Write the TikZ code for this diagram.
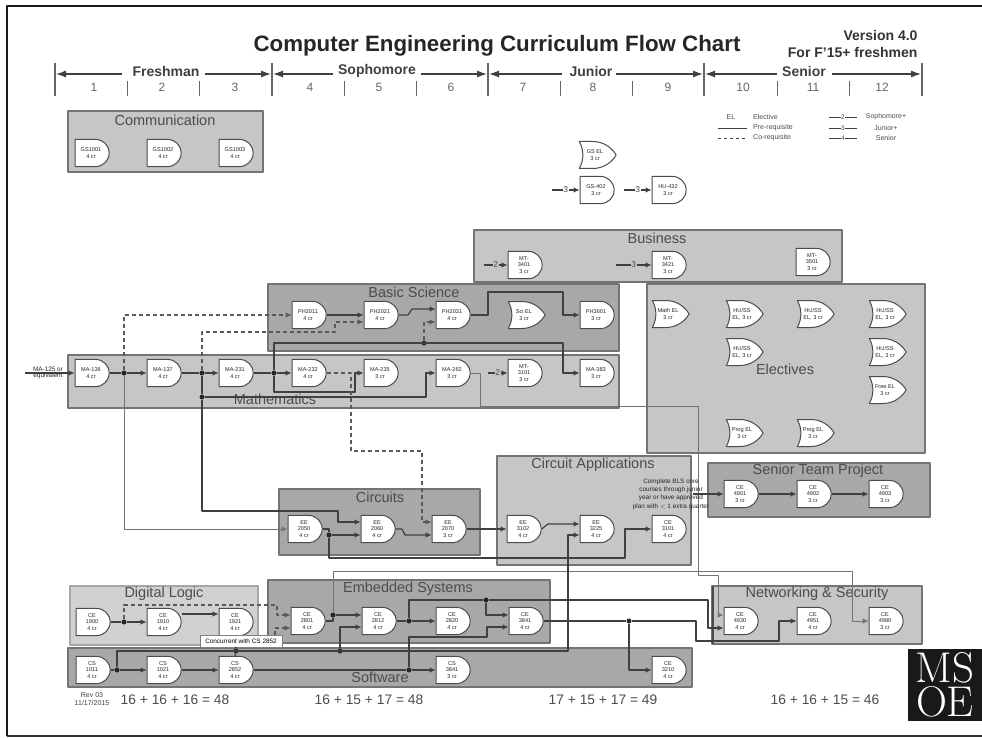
\documentclass[tikz,border=0pt]{standalone}
\usepackage{fontspec}
\setmainfont{Liberation Sans}
\usetikzlibrary{arrows.meta,shapes.gates.logic.US}
\definecolor{lightbox}{HTML}{C6C6C6}
\definecolor{darkbox}{HTML}{A8A8A8}
\definecolor{boxedge}{HTML}{747474}
\tikzset{
  course/.style={and gate US,draw=black!70,fill=white,line width=1pt,minimum width=34,minimum height=27,inner sep=0pt,align=center,font=\fontsize{5.6}{6.8}\selectfont,text=black!85},
  elective/.style={or gate US,draw=black!70,fill=white,line width=1pt,minimum width=34,minimum height=27,inner sep=0pt,align=center,font=\fontsize{5.6}{6.8}\selectfont,text=black!85},
  lightgroup/.style={draw=boxedge,fill=lightbox,line width=1.2pt},
  darkgroup/.style={draw=boxedge,fill=darkbox,line width=1.2pt},
  grouplabel/.style={font=\fontsize{14.5}{16}\selectfont,text=black!70},
  wire/.style={draw=black!75,line width=1.2pt,-{Latex[length=6,width=5.5]}},
  link/.style={draw=black!75,line width=1.2pt},
  thinwire/.style={draw=black!55,line width=1pt,-{Latex[length=6,width=5.5]}},
  cowire/.style={draw=black!65,line width=1.2pt,dash pattern=on 4pt off 3pt,-{Latex[length=6,width=5.5]}},
  junct/.style={circle,fill=black!85,inner sep=0pt,minimum size=5},
  level/.style={font=\fontsize{8.5}{8.5}\selectfont,inner sep=0.6pt,text=black!70},
  yearlabel/.style={font=\bfseries\fontsize{14}{15}\selectfont,text=black!75},
  quarter/.style={font=\fontsize{12}{13}\selectfont,text=black!60},
  yeararrow/.style={draw=black!75,line width=1.2pt,-{Latex[length=10,width=7]}},
  tick/.style={draw=black!60,line width=1.4pt},
  credits/.style={font=\fontsize{13.8}{15}\selectfont,text=black!70},
  legend/.style={font=\fontsize{7}{8}\selectfont,text=black!70,inner sep=0pt}
}
\begin{document}
\begin{tikzpicture}[x=1pt,y=-1pt,line cap=butt,line join=round]
  \useasboundingbox (0,0) rectangle (982,738);
  \fill[white] (0,0) rectangle (982,738);
  \draw[black!90,line width=1.5pt] (7,736) -- (7,6) -- (982,6);
  \draw[black!80,line width=1.5pt] (7,736) -- (982,736);

  \node[font=\bfseries\fontsize{22.3}{24}\selectfont,text=black!85] (title) at (497,46) {Computer Engineering Curriculum Flow Chart};
  \node[anchor=east,align=right,font=\bfseries\fontsize{14}{17}\selectfont,text=black!80] (version) at (921,44) {Version 4.0\\For F'15+ freshmen};

  \draw[tick] (55,63) -- (55,96) (272,63) -- (272,96) (488,63) -- (488,96) (704,63) -- (704,96) (922,63) -- (922,96);
  \draw[tick,line width=1pt] (127,81) -- (127,96) (199,81) -- (199,96) (344,81) -- (344,96) (416,81) -- (416,96);
  \draw[tick,line width=1pt] (560,81) -- (560,96) (632,81) -- (632,96) (777,81) -- (777,96) (849,81) -- (849,96);
  \node[yearlabel] (fresh) at (166,71) {Freshman};
  \node[yearlabel] (soph) at (377,71) {Sophomore};
  \node[yearlabel] (jun) at (591,71) {Junior};
  \node[yearlabel] (sen) at (804,71) {Senior};
  \coordinate (y0) at (56,74);
  \coordinate (y1l) at (271,74);
  \coordinate (y1r) at (273,74);
  \coordinate (y2l) at (487,74);
  \coordinate (y2r) at (489,74);
  \coordinate (y3l) at (703,74);
  \coordinate (y3r) at (705,74);
  \coordinate (y4) at (921,74);
  \draw[yeararrow] (122,74) -- (y0);
  \draw[yeararrow] (205,74) -- (y1l);
  \draw[yeararrow] (333,74) -- (y1r);
  \draw[yeararrow] (421,74) -- (y2l);
  \draw[yeararrow] (562,74) -- (y2r);
  \draw[yeararrow] (616,74) -- (y3l);
  \draw[yeararrow] (777,74) -- (y3r);
  \draw[yeararrow] (832,74) -- (y4);
  \node[quarter] (q1) at (94,87) {1};
  \node[quarter] (q2) at (162,87) {2};
  \node[quarter] (q3) at (235,87) {3};
  \node[quarter] (q4) at (310,87) {4};
  \node[quarter] (q5) at (379,87) {5};
  \node[quarter] (q6) at (451,87) {6};
  \node[quarter] (q7) at (523,87) {7};
  \node[quarter] (q8) at (593,87) {8};
  \node[quarter] (q9) at (668,87) {9};
  \node[quarter] (q10) at (743,87) {10};
  \node[quarter] (q11) at (813,87) {11};
  \node[quarter] (q12) at (882,87) {12};

  \draw[lightgroup] (68,111) rectangle (263,172);
  \draw[lightgroup] (474,230) rectangle (842,282);
  \draw[lightgroup] (647,284) rectangle (925,453);
  \draw[darkgroup] (268,284) rectangle (619,351);
  \draw[lightgroup] (68,355) rectangle (619,408);
  \draw[darkgroup] (279,489) rectangle (480,555);
  \draw[lightgroup] (497,456) rectangle (691,565);
  \draw[darkgroup] (708,463) rectangle (930,517);
  \draw[lightgroup,draw=black!35,fill=black!18] (70,586) rectangle (258,645);
  \draw[lightgroup] (712,586) rectangle (922,644);
  \draw[black!70,line width=1.4pt] (713,586) -- (713,644);
  \draw[darkgroup] (268,580) rectangle (550,643);
  \draw[darkgroup] (68,648) rectangle (692,687);
  \node[grouplabel] (commlabel) at (165,120) {Communication};
  \node[grouplabel] (buslabel) at (657,238) {Business};
  \node[grouplabel] (scilabel) at (414,292) {Basic Science};
  \node[grouplabel] (mathlabel) at (275,399) {Mathematics};
  \node[grouplabel] (electlabel) at (785,369) {Electives};
  \node[grouplabel] (circlabel) at (380,497) {Circuits};
  \node[grouplabel] (applabel) at (593,465) {Circuit Applications};
  \node[grouplabel] (teamlabel) at (818,471) {Senior Team Project};
  \node[grouplabel] (digilabel) at (164,594) {Digital Logic};
  \node[grouplabel] (emblabel) at (408,589) {Embedded Systems};
  \node[grouplabel] (netlabel) at (817,594) {Networking \& Security};
  \node[grouplabel] (softlabel) at (380,677) {Software};

  \node[course] (gs1001) at (91,153) {GS1001\\4 cr};
  \node[course] (gs1002) at (163,153) {GS1002\\4 cr};
  \node[course] (gs1003) at (235,153) {GS1003\\4 cr};

  \node[elective] (gsel) at (595,155) {GS EL\\3 cr};
  \node[course] (gs402) at (596,190) {GS-402\\3 cr};
  \node[course] (hu432) at (668,190) {HU-432\\3 cr};

  \node[course] (mt3401) at (524,265) {MT-\\3401\\3 cr};
  \node[course] (mt3421) at (668,265) {MT-\\3421\\3 cr};
  \node[course] (mt3501) at (812,262) {MT-\\3501\\3 cr};

  \node[course] (ph2011) at (308,315) {PH2011\\4 cr};
  \node[course] (ph2021) at (380,315) {PH2021\\4 cr};
  \node[course] (ph2031) at (452,315) {PH2031\\4 cr};
  \node[elective] (sciel) at (524,315) {Sci EL\\3 cr};
  \node[course] (ph3601) at (596,315) {PH3601\\3 cr};

  \node[course] (ma136) at (91,373) {MA-136\\4 cr};
  \node[course] (ma137) at (163,373) {MA-137\\4 cr};
  \node[course] (ma231) at (235,373) {MA-231\\4 cr};
  \node[course] (ma232) at (308,373) {MA-232\\4 cr};
  \node[course] (ma235) at (380,373) {MA-235\\3 cr};
  \node[course] (ma262) at (452,373) {MA-262\\3 cr};
  \node[course] (mt3101) at (524,373) {MT-\\3101\\3 cr};
  \node[course] (ma383) at (596,373) {MA-383\\3 cr};

  \node[elective] (mathel) at (668,314) {Math EL\\3 cr};
  \node[elective] (huss1) at (742,314) {HU/SS\\EL, 3 cr};
  \node[elective] (huss2) at (813,314) {HU/SS\\EL, 3 cr};
  \node[elective] (huss3) at (885,314) {HU/SS\\EL, 3 cr};
  \node[elective] (huss4) at (742,352) {HU/SS\\EL, 3 cr};
  \node[elective] (huss5) at (885,352) {HU/SS\\EL, 3 cr};
  \node[elective] (freeel) at (885,390) {Free EL\\3 cr};
  \node[elective] (progel1) at (742,433) {Prog EL\\3 cr};
  \node[elective] (progel2) at (813,433) {Prog EL\\3 cr};

  \node[course] (ee2050) at (304,529) {EE\\2050\\4 cr};
  \node[course] (ee2060) at (377,529) {EE\\2060\\4 cr};
  \node[course] (ee2070) at (448,529) {EE\\2070\\3 cr};
  \node[course] (ee3102) at (523,529) {EE\\3102\\4 cr};
  \node[course] (ee3225) at (596,529) {EE\\3225\\4 cr};
  \node[course] (ce3101) at (668,529) {CE\\3101\\4 cr};

  \node[course] (ce4901) at (740,494) {CE\\4901\\3 cr};
  \node[course] (ce4902) at (813,494) {CE\\4902\\3 cr};
  \node[course] (ce4903) at (885,494) {CE\\4903\\3 cr};

  \node[course] (ce1900) at (92,622) {CE\\1900\\4 cr};
  \node[course] (ce1910) at (163,622) {CE\\1910\\4 cr};
  \node[course] (ce1921) at (235,622) {CE\\1921\\4 cr};
  \node[course] (ce2801) at (307,621) {CE\\2801\\4 cr};
  \node[course] (ce2812) at (378,621) {CE\\2812\\4 cr};
  \node[course] (ce2820) at (452,621) {CE\\2820\\4 cr};
  \node[course] (ce3841) at (525,621) {CE\\3841\\4 cr};

  \node[course] (ce4930) at (740,621) {CE\\4930\\4 cr};
  \node[course] (ce4951) at (813,621) {CE\\4951\\4 cr};
  \node[course] (ce4980) at (885,621) {CE\\4980\\3 cr};

  \node[course] (cs1011) at (92,670) {CS\\1011\\4 cr};
  \node[course] (cs1021) at (163,670) {CS\\1021\\4 cr};
  \node[course] (cs2852) at (235,670) {CS\\2852\\4 cr};
  \node[course] (cs3841) at (452,670) {CS\\3841\\3 cr};
  \node[course] (ce3210) at (668,670) {CE\\3210\\4 cr};

  \node[junct] (ja) at (124,373) {};
  \node[junct] (jb) at (202,373) {};
  \node[junct] (jc) at (274,373) {};
  \node[junct] (jd) at (202,397) {};
  \node[junct] (je) at (424,343) {};
  \node[junct] (jf) at (329,535) {};
  \node[junct] (jg) at (409,621) {};
  \node[junct] (jh) at (486,600) {};
  \node[junct] (ji) at (409,670) {};
  \node[junct] (jk) at (124,622) {};
  \node[junct] (jl) at (333,615) {};
  \node[junct] (jm) at (340,651) {};
  \node[junct] (jn) at (236,651) {};
  \node[junct] (jo) at (117,670) {};
  \node[junct] (jp) at (629,621) {};

  \coordinate (gsin) at (552,190);
  \coordinate (huin) at (624,190);
  \coordinate (mtina) at (484,265);
  \coordinate (mtinb) at (616,265);
  \coordinate (mtinc) at (488,373);
  \coordinate (mastart) at (25,373);
  \coordinate (teamin) at (693,494);
  \coordinate (notetop) at (275,635);

  \draw[wire] (gsin) -- node[level,fill=white] {3} (gs402.west);
  \draw[wire] (huin) -- node[level,fill=white] {3} (hu432.west);
  \draw[wire] (mtina) -- node[level,fill=lightbox] {2} (mt3401.west);
  \draw[wire] (mtinb) -- node[level,fill=lightbox] {3} (mt3421.west);
  \draw[wire] (mtinc) -- node[level,fill=lightbox] {2} (mt3101.west);

  \draw[wire] (mastart) -- (ma136.west);
  \draw[link] (ma136.east) -- (ja);
  \draw[wire] (ja) -- (ma137.west);
  \draw[link] (ma137.east) -- (jb);
  \draw[wire] (jb) -- (ma231.west);
  \draw[link] (ma231.east) -- (jc);
  \draw[wire] (jc) -- (ma232.west);
  \draw[thinwire] (ja) |- (ee2050.west);
  \draw[cowire] (ja) |- (ph2011.west);
  \draw[cowire] (jb) |- (335,332) -- (335,322) -- ([yshift=-7]ph2021.west);
  \draw[link] (jb) -- (jd);
  \draw[wire] (jd) -- (202,511) -- (338,511) -- (338,522) -- ([yshift=7]ee2060.west);
  \draw[wire] (jd) -- (426,397) -- (426,373) -- (ma262.west);
  \draw[wire] (jc) -- (274,343) -- (563,343) -- (563,373) -- (ma383.west);
  \draw[wire] (jc) -- (274,392) -- (355,392) -- (355,373) -- (ma235.west);
  \draw[cowire] (je) -- (424,322) -- ([yshift=-7]ph2031.west);
  \draw[cowire] (ma232.east) -- (351,373) -- (351,451) -- (422,451) -- (422,522) -- ([yshift=7]ee2070.west);
  \draw[thinwire] (ma262.east) -- (480,373) -- (480,406) -- (698,406) -- (698,575) -- (718,575) -- (718,615) -- ([yshift=6]ce4930.west);

  \draw[wire,line width=1.8pt] (ph2011.east) -- (ph2021.west);
  \draw[wire] (ph2021.east) -- (408,315) -- (412,309) -- ([yshift=6]ph2031.west);
  \draw[wire] (ph2031.east) -- (488,315) -- (488,292) -- (563,292) -- (563,315) -- (ph3601.west);

  \draw[link] (ee2050.east) -| (jf);
  \draw[wire] (jf) -- ([yshift=-6]ee2060.west);
  \draw[wire] (jf) -- (329,558) -- (625,558) -- (625,529) -- (ce3101.west);
  \draw[wire] (ee2060.east) -- (402,529) -- (405,535) -- ([yshift=-6]ee2070.west);
  \draw[wire] (ee2070.east) -- (ee3102.west);
  \draw[wire] (ee3102.east) -- (548,524) -- ([yshift=5]ee3225.west);

  \draw[wire] (teamin) -- (ce4901.west);
  \draw[wire] (ce4901.east) -- (ce4902.west);
  \draw[wire] (ce4902.east) -- (ce4903.west);

  \draw[link] (ce1900.east) -- (jk);
  \draw[wire] (jk) -- (ce1910.west);
  \draw[cowire] (jk) -- (124,605) -- (277,605) -- (277,615) -- ([yshift=6]ce2801.west);
  \draw[wire] ([yshift=8]ce1910.east) -- ([yshift=8]ce1921.west);
  \draw[cowire] (notetop) -- (275,628) -- ([yshift=-7]ce2801.west);

  \draw[link] (ce2801.east) -| (jl);
  \draw[wire] (jl) -- ([yshift=6]ce2812.west);
  \draw[thinwire] (jl) -- (333,571) -- (852,571) -- (852,621) -- (ce4980.west);
  \draw[link] (ce2812.east) -- (jg);
  \draw[wire] (jg) -- (ce2820.west);
  \draw[link] (jg) -- (409,600) -- (jh);
  \draw[wire] (jh) -- (486,615) -- ([yshift=6]ce3841.west);
  \draw[wire] (jh) -- (708,600) -- (708,628) -- ([yshift=-7]ce4930.west);
  \draw[wire] (ji) -- (409,637) -- (487,637) -- (487,627) -- ([yshift=-6]ce3841.west);
  \draw[link] (ce3841.east) -- (jp);
  \draw[wire] (jp) -- (696,621) -- (696,641) -- (779,641) -- (779,621) -- (ce4951.west);
  \draw[wire] (jp) -- (629,670) -- (ce3210.west);

  \draw[link] (cs1011.east) -- (jo);
  \draw[wire] (jo) -- (cs1021.west);
  \draw[wire] (cs1021.east) -- (cs2852.west);
  \draw[link] (cs2852.east) -- (ji);
  \draw[wire] (ji) -- (cs3841.west);
  \draw[wire] (jo) -- (117,651) -- (568,651) -- (568,535) -- ([yshift=-6]ee3225.west);
  \draw[wire] (jm) -- (340,627) -- ([yshift=-6]ce2812.west);
  \draw[link] (jn) -- (cs2852.north);

  \node[draw=black!50,fill=white,minimum width=82,minimum height=12,inner sep=0pt,font=\fontsize{6.4}{7}\selectfont] (concnote) at (241,641) {Concurrent with CS 2852};
  \draw[link] (jn) -- (concnote.south -| jn);

  \node[align=center,font=\fontsize{6.4}{6.8}\selectfont,inner sep=0pt,text=black!85] (madesc) at (48,373) {MA-125 or\\equivalent};
  \node[align=center,font=\fontsize{6.4}{8.3}\selectfont,inner sep=0pt,text=black!85] (plannote) at (671,494) {Complete BLS core\\courses through junior\\year or have approved\\plan with $<$ 1 extra quarter};

  \node[legend] (elkey) at (731,117) {EL};
  \node[legend,anchor=west] (eltext) at (753,117) {Elective};
  \node[legend,anchor=west] (pretext) at (753,128) {Pre-requisite};
  \node[legend,anchor=west] (cotext) at (753,138) {Co-requisite};
  \node[legend] (sophtext) at (886,117) {Sophomore+};
  \node[legend] (juntext) at (886,128) {Junior+};
  \node[legend] (sentext) at (886,138) {Senior};
  \coordinate (prea) at (718,128);
  \coordinate (preb) at (747,128);
  \coordinate (coa) at (718,138);
  \coordinate (cob) at (747,138);
  \coordinate (la) at (829,117);
  \coordinate (lb) at (857,117);
  \coordinate (lc) at (829,128);
  \coordinate (ld) at (857,128);
  \coordinate (le) at (829,138);
  \coordinate (lf) at (857,138);
  \draw[link,line width=0.8pt] (prea) -- (preb);
  \draw[link,line width=0.8pt,dashed] (coa) -- (cob);
  \draw[link,line width=0.8pt] (la) -- node[level,fill=white,font=\fontsize{6.5}{6.5}\selectfont] {2} (lb);
  \draw[link,line width=0.8pt] (lc) -- node[level,fill=white,font=\fontsize{6.5}{6.5}\selectfont] {3} (ld);
  \draw[link,line width=0.8pt] (le) -- node[level,fill=white,font=\fontsize{6.5}{6.5}\selectfont] {4} (lf);

  \node[align=center,font=\fontsize{7}{8}\selectfont,text=black!75,inner sep=0pt] (rev) at (92,699) {Rev 03\\11/17/2015};
  \node[credits] (sum1) at (175,700) {16 + 16 + 16 = 48};
  \node[credits] (sum2) at (369,700) {16 + 15 + 17 = 48};
  \node[credits] (sum3) at (603,700) {17 + 15 + 17 = 49};
  \node[credits] (sum4) at (825,700) {16 + 16 + 15 = 46};

  \fill[black!90] (908,649) rectangle (982,721);
  \node[text=white,align=center,font=\fontfamily{lmr}\fontsize{43}{34}\selectfont,inner sep=0pt] (msoe) at (945,685) {MS\\OE};
\end{tikzpicture}
\end{document}
